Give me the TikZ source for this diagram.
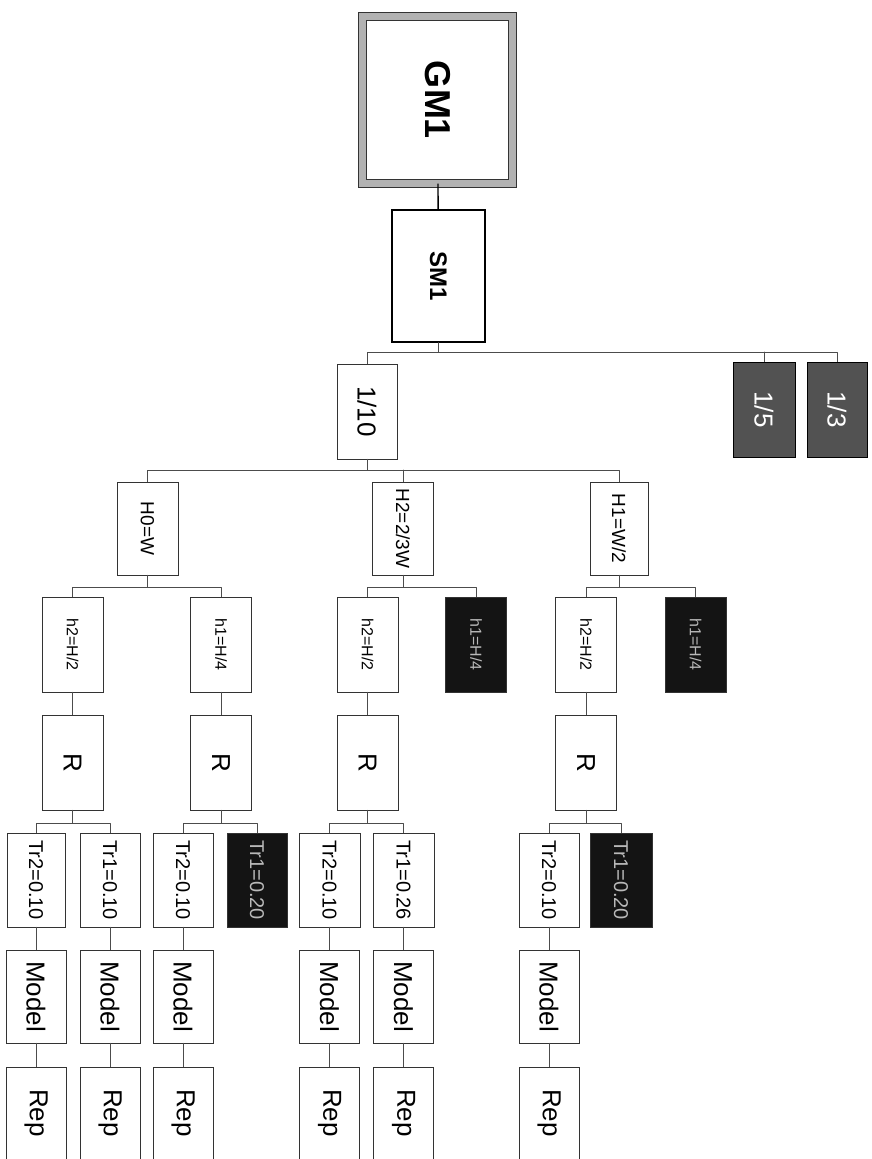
\documentclass[tikz,border=0pt]{standalone}
\usepackage{fontspec}
\setmainfont{Liberation Sans}
\usepackage{graphicx}
\newcommand{\vtext}[1]{\rotatebox{-90}{#1}}

\begin{document}
\begin{tikzpicture}[x=1pt,y=-1pt,line join=round,line cap=round,
		box/.style={draw=black!80,fill=white,line width=0.8pt,line join=miter,inner sep=0pt,minimum width=61pt,minimum height=95pt},
		darkbox/.style={box,fill=black!92,text=gray!55},
		greybox/.style={box,draw=black,fill=black!68,text=white!80},
		link/.style={draw=black!70,line width=0.9pt},
		fsH/.style={font=\fontsize{19}{19}\selectfont},
		fsh/.style={font=\fontsize{16}{16}\selectfont},
		fsT/.style={font=\fontsize{20}{20}\selectfont},
		fsM/.style={font=\fontsize{26}{26}\selectfont}]
	\useasboundingbox (0,0) rectangle (871,1159);
	
	% bus levels
	\coordinate (bus1) at (0,352);
	\coordinate (bus2) at (0,470);
	\coordinate (bus3) at (0,587);
	\coordinate (bus4) at (0,823);
	
	\node[draw=black!80,double=gray!60,double distance=7pt,line width=1pt,line join=miter,inner sep=0pt,minimum width=150pt,minimum height=167pt,font=\bfseries\fontsize{36}{36}\selectfont] (gm1) at (437.5,100) {\vtext{GM1}};
	\node[box,draw=black,line width=1.4pt,minimum width=93pt,minimum height=132pt,font=\bfseries\fontsize{24}{24}\selectfont] (sm1) at (438.5,276) {\vtext{SM1}};
	
	\node[box,minimum width=60pt,fsM] (t10) at (367,411.5) {\vtext{1/10}};
	\node[greybox,minimum width=62pt,fsM] (t5) at (764,409.5) {\vtext{1/5}};
	\node[greybox,minimum width=60pt,fsM] (t3) at (837,409.5) {\vtext{1/3}};
	
	\node[box,minimum height=93pt,fsH] (hw0) at (147.5,528.5) {\vtext{H0=W}};
	\node[box,minimum height=93pt,fsH] (hw2) at (403,528.5) {\vtext{H2=2/3W}};
	\node[box,minimum width=58pt,minimum height=93pt,fsH] (hw1) at (619,528.5) {\vtext{H1=W/2}};
	
	\node[box,fsh] (ha) at (72.5,644.5) {\vtext{h2=H/2}};
	\node[box,fsh] (hb) at (221,644.5) {\vtext{h1=H/4}};
	\node[box,fsh] (hc) at (367.5,644.5) {\vtext{h2=H/2}};
	\node[darkbox,fsh] (hx) at (476,644.5) {\vtext{h1=H/4}};
	\node[box,fsh] (hd) at (586,644.5) {\vtext{h2=H/2}};
	\node[darkbox,fsh] (hy) at (695.5,644.5) {\vtext{h1=H/4}};
	
	\foreach \n in {a,b,c,d} {
		\node[box,fsM] (r\n) at (h\n |- 0,762.5) {\vtext{R}};
		\draw[link] (h\n) -- (r\n);
	}
	
	\node[box,minimum width=58pt,minimum height=94pt,fsT] (tra) at (36,880) {\vtext{Tr2=0.10}};
	\node[box,minimum width=60pt,minimum height=94pt,fsT] (trb) at (110,880) {\vtext{Tr1=0.10}};
	\node[box,minimum width=60pt,minimum height=94pt,fsT] (trc) at (183,880) {\vtext{Tr2=0.10}};
	\node[darkbox,minimum width=60pt,minimum height=94pt,fsT] (trx) at (257,880) {\vtext{Tr1=0.20}};
	\node[box,minimum width=61pt,minimum height=94pt,fsT] (trd) at (329.5,880) {\vtext{Tr2=0.10}};
	\node[box,minimum width=61pt,minimum height=94pt,fsT] (tre) at (403.5,880) {\vtext{Tr1=0.26}};
	\node[box,minimum width=60pt,minimum height=94pt,fsT] (trf) at (549,880) {\vtext{Tr2=0.10}};
	\node[darkbox,minimum width=62pt,minimum height=94pt,fsT] (try) at (621,880) {\vtext{Tr1=0.20}};
	
	\foreach \n in {a,b,c,d,e,f} {
		\node[box,minimum width=60pt,minimum height=93pt,fsM] (model\n) at (tr\n |- 0,996.5) {\vtext{Model}};
		\node[box,minimum width=60pt,minimum height=92pt,fsM] (rep\n) at (tr\n |- 0,1113) {\vtext{Rep}};
		\draw[link] (tr\n) -- (model\n);
		\draw[link] (model\n) -- (rep\n);
	}
	
	% tree connectors
	\draw[link,line width=1.4pt,draw=black] (gm1) -- (sm1);
	\draw[link] (sm1.south) -- (sm1.south |- bus1);
	\draw[link] (t10.north) |- (t3.north |- bus1) -- (t3.north);
	\draw[link] (t5.north) -- (t5.north |- bus1);
	
	\draw[link] (t10.south) -- (t10.south |- bus2);
	\draw[link] (hw0.north) |- (hw1.north |- bus2) -- (hw1.north);
	\draw[link] (hw2.north) -- (hw2.north |- bus2);
	
	\draw[link] (hw0.south) -- (hw0.south |- bus3);
	\draw[link] (ha.north) |- (hb.north |- bus3) -- (hb.north);
	\draw[link] (hw2.south) -- (hw2.south |- bus3);
	\draw[link] (hc.north) |- (hx.north |- bus3) -- (hx.north);
	\draw[link] (hw1.south) -- (hw1.south |- bus3);
	\draw[link] (hd.north) |- (hy.north |- bus3) -- (hy.north);
	
	\draw[link] (ra.south) -- (ra.south |- bus4);
	\draw[link] (tra.north) |- (trb.north |- bus4) -- (trb.north);
	\draw[link] (rb.south) -- (rb.south |- bus4);
	\draw[link] (trc.north) |- (trx.north |- bus4) -- (trx.north);
	\draw[link] (rc.south) -- (rc.south |- bus4);
	\draw[link] (trd.north) |- (tre.north |- bus4) -- (tre.north);
	\draw[link] (rd.south) -- (rd.south |- bus4);
	\draw[link] (trf.north) |- (try.north |- bus4) -- (try.north);
\end{tikzpicture}
\end{document}
